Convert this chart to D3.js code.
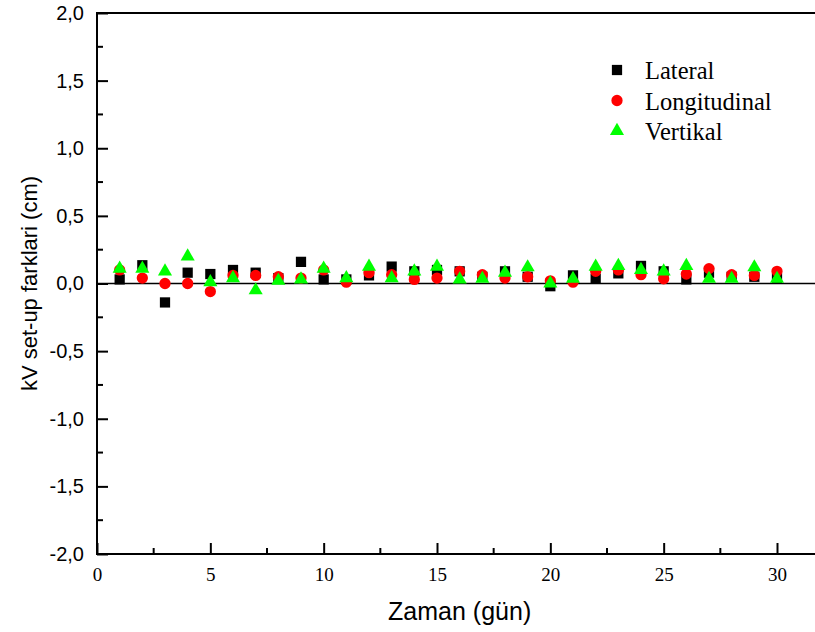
<!DOCTYPE html>
<html>
<head>
<meta charset="utf-8">
<script src="https://cdn.jsdelivr.net/npm/d3@7"></script>
<style>
  html, body { margin: 0; padding: 0; background: #fff; }
  svg { display: block; }
</style>
</head>
<body>
<svg id="chart" width="815" height="632"></svg>
<script>
// Daily kV set-up differences (cm) per direction
const days = d3.range(1, 31);
const lateral = [0.03, 0.135, -0.14, 0.08, 0.07, 0.10, 0.08, 0.04, 0.16, 0.03,
                 0.03, 0.06, 0.125, 0.09, 0.10, 0.09, 0.05, 0.09, 0.05, -0.02,
                 0.06, 0.035, 0.075, 0.13, 0.09, 0.03, 0.08, 0.05, 0.05, 0.04];
const longitudinal = [0.10, 0.04, 0.0, 0.0, -0.06, 0.06, 0.06, 0.05, 0.04, 0.10,
                      0.01, 0.08, 0.065, 0.03, 0.04, 0.09, 0.065, 0.04, 0.05, 0.02,
                      0.01, 0.09, 0.10, 0.065, 0.035, 0.07, 0.11, 0.065, 0.06, 0.09];
const vertikal = [0.11, 0.11, 0.09, 0.20, 0.01, 0.04, -0.05, 0.02, 0.03, 0.11,
                  0.04, 0.125, 0.04, 0.09, 0.125, 0.03, 0.035, 0.08, 0.12, 0.0,
                  0.035, 0.125, 0.13, 0.10, 0.09, 0.13, 0.035, 0.035, 0.12, 0.035];
const seriesNames = ["Lateral", "Longitudinal", "Vertikal"];
const xTicks = [0, 5, 10, 15, 20, 25, 30];
const yTicks = [-2.0, -1.5, -1.0, -0.5, 0.0, 0.5, 1.0, 1.5, 2.0];

const SANS = "'Liberation Sans', Arial, sans-serif";
const SERIF = "'Liberation Serif', 'Times New Roman', serif";

const svg = d3.select("#chart");
const plotLeft = 97, plotTop = 13, plotBottom = 554;

const x = d3.scaleLinear().domain([0, 32]).range([plotLeft, plotLeft + 32 * (680 / 30)]);
const y = d3.scaleLinear().domain([-2, 2]).range([plotBottom, plotTop]);
const plotRight = x(32);

const fmtY = v => d3.format(".1f")(v).replace(".", ",").replace("−", "-");

const series = [
  { name: seriesNames[0], values: lateral, color: "#000000", type: d3.symbolSquare, size: 105 },
  { name: seriesNames[1], values: longitudinal, color: "#ff0000", type: d3.symbolCircle, size: 100 },
  { name: seriesNames[2], values: vertikal, color: "#00ff00", type: d3.symbolTriangle, size: 86 }
];

// Frame
svg.append("rect")
  .attr("x", plotLeft).attr("y", plotTop)
  .attr("width", plotRight - plotLeft).attr("height", plotBottom - plotTop)
  .attr("fill", "none").attr("stroke", "#000").attr("stroke-width", 2);

// Zero reference line
svg.append("line")
  .attr("x1", plotLeft).attr("x2", plotRight)
  .attr("y1", y(0)).attr("y2", y(0))
  .attr("stroke", "#000").attr("stroke-width", 1.6);

// Left axis: inward ticks, major + minor
const yAxis = svg.append("g").attr("transform", `translate(${plotLeft},0)`)
  .call(d3.axisLeft(y).tickValues(yTicks).tickSizeInner(-11).tickSizeOuter(0).tickPadding(13).tickFormat(fmtY));
yAxis.select(".domain").remove();
yAxis.selectAll(".tick line").attr("stroke-width", 2);
yAxis.selectAll(".tick text")
  .attr("font-family", SANS)
  .attr("font-size", 20).attr("fill", "#000");
const yMinor = d3.range(-1.75, 2, 0.5);
svg.append("g").selectAll("line").data(yMinor).join("line")
  .attr("x1", plotLeft).attr("x2", plotLeft + 6)
  .attr("y1", d => y(d)).attr("y2", d => y(d))
  .attr("stroke", "#000").attr("stroke-width", 2);

// Bottom axis: inward ticks, major + minor
const xAxis = svg.append("g").attr("transform", `translate(0,${plotBottom})`)
  .call(d3.axisBottom(x).tickValues(xTicks).tickSizeInner(-11).tickSizeOuter(0).tickPadding(14).tickFormat(d3.format("d")));
xAxis.select(".domain").remove();
xAxis.selectAll(".tick line").attr("stroke-width", 2);
xAxis.selectAll(".tick text")
  .attr("font-family", SERIF)
  .attr("font-size", 19).attr("fill", "#000");
const xMinor = d3.range(2.5, 32, 5);
svg.append("g").selectAll("line").data(xMinor).join("line")
  .attr("x1", d => x(d)).attr("x2", d => x(d))
  .attr("y1", plotBottom).attr("y2", plotBottom - 6)
  .attr("stroke", "#000").attr("stroke-width", 2);

// Axis titles
svg.append("text")
  .attr("x", (plotLeft + plotRight) / 2).attr("y", 620)
  .attr("text-anchor", "middle")
  .attr("font-family", SANS)
  .attr("font-size", 25)
  .text("Zaman (gün)");
svg.append("text")
  .attr("transform", `translate(37,${(plotTop + plotBottom) / 2}) rotate(-90)`)
  .attr("text-anchor", "middle")
  .attr("font-family", SANS)
  .attr("font-size", 22)
  .text("kV set-up farklari (cm)");

// Points
const sym = d3.symbol();
series.forEach(s => {
  svg.append("g").selectAll("path").data(days.map((d, i) => [d, s.values[i]])).join("path")
    .attr("transform", d => `translate(${x(d[0])},${y(d[1])})`)
    .attr("d", sym.type(s.type).size(s.size)())
    .attr("fill", s.color);
});

// Legend
const legend = svg.append("g");
series.forEach((s, i) => {
  const cy = 70 + i * 30.5;
  legend.append("path")
    .attr("transform", `translate(617,${cy})`)
    .attr("d", sym.type(s.type).size(s.size)())
    .attr("fill", s.color);
  legend.append("text")
    .attr("x", 645).attr("y", cy + 9)
    .attr("font-family", SERIF)
    .attr("font-size", 24.5)
    .text(s.name);
});
</script>
</body>
</html>
